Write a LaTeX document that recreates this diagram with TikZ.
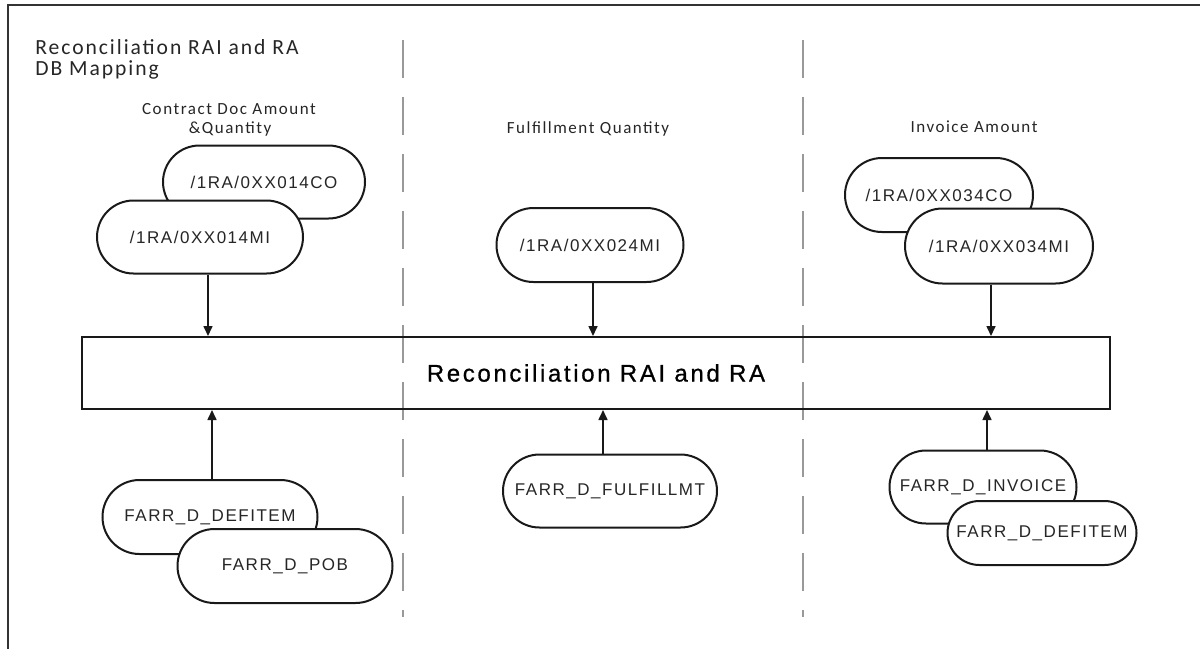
\documentclass[tikz,border=0pt]{standalone}
\usepackage{fontspec}
\setmainfont{Carlito}
\newfontfamily\arialsp[LetterSpace=9]{Liberation Sans}
\newfontfamily\arialmain[LetterSpace=11,FakeBold=0.8]{Liberation Sans}
\newfontfamily\calsp[LetterSpace=9]{Carlito}
\usetikzlibrary{arrows.meta,shapes.misc}
\begin{document}
\begin{tikzpicture}[x=0.5pt,y=-0.5pt,
  pill/.style={draw=black!90, line width=1pt, fill=white, rounded rectangle, inner sep=0pt,
    text=black!85, font=\arialsp\fontsize{8.5}{10}\selectfont},
  mainbox/.style={draw=black!90, line width=1pt, inner sep=0pt, minimum width=514pt, minimum height=36pt,
    font=\arialmain\fontsize{12}{14}\selectfont},
  arr/.style={-{Triangle[length=5pt,width=4.5pt]}, line width=0.8pt, black!90},
  lane/.style={draw=black!40, line width=1.1pt, dash pattern=on 19pt off 9.5pt},
  frame/.style={draw=black!80, line width=1.3pt},
  ttl/.style={anchor=base west, inner sep=0pt, text=black!85, font=\calsp\fontsize{10.8}{12}\selectfont},
  hdr/.style={anchor=base, inner sep=0pt, text=black!85, font=\calsp\fontsize{8.5}{10}\selectfont}]
\useasboundingbox (0,0) rectangle (1200,649);
% frame
\coordinate (fTR) at (1200,5);
\coordinate (fTL) at (8,5);
\coordinate (fBL) at (8,649);
\draw[frame] (fTR) -- (fTL) -- (fBL);
% titles
\node[ttl] (t1) at (35,54) {Reconciliation RAI and RA};
\node[ttl] (t2) at (35,75) {DB Mapping};
\node[hdr] (h1a) at (229,114) {Contract Doc Amount};
\node[hdr] (h1b) at (230,133) {\&Quantity};
\node[hdr] (h2) at (588,133) {Fulfillment Quantity};
\node[hdr] (h3) at (974,132) {Invoice Amount};
% swimlane separators
\coordinate (l1t) at (403,40);
\coordinate (l1b) at (403,617);
\coordinate (l2t) at (803,40);
\coordinate (l2b) at (803,617);
\draw[lane] (l1t) -- (l1b);
\draw[lane] (l2t) -- (l2b);
% main box
\node[mainbox] (main) at (596,373) {Reconciliation RAI and RA};
% top pills
\node[pill, minimum width=101pt, minimum height=36.5pt] (co1) at (264,182) {/1RA/0XX014CO};
\node[pill, minimum width=103pt, minimum height=36.5pt] (mi1) at (200,237) {/1RA/0XX014MI};
\node[pill, minimum width=93.5pt, minimum height=37pt] (mi2) at (590,245) {/1RA/0XX024MI};
\node[pill, minimum width=94pt, minimum height=37pt] (co3) at (939,195) {/1RA/0XX034CO};
\node[pill, minimum width=94pt, minimum height=37.5pt] (mi3) at (999,246) {/1RA/0XX034MI};
% bottom pills
\node[pill, minimum width=107.5pt, minimum height=37pt] (def1) at (210,517) {FARR\_D\_DEFITEM};
\node[pill, minimum width=107.5pt, minimum height=37pt] (pob) at (285,566) {FARR\_D\_POB};
\node[pill, minimum width=107pt, minimum height=36.5pt] (ful) at (610,491) {FARR\_D\_FULFILLMT};
\node[pill, minimum width=93.5pt, minimum height=36.5pt] (inv) at (983,487) {FARR\_D\_INVOICE};
\node[pill, minimum width=94.5pt, minimum height=32pt] (def3) at (1042,533) {FARR\_D\_DEFITEM};
% arrows
\draw[arr] ([xshift=4pt]mi1.south) -- ([xshift=4pt]mi1.south |- main.north);
\draw[arr] ([xshift=1.5pt]mi2.south) -- ([xshift=1.5pt]mi2.south |- main.north);
\draw[arr] ([xshift=-4pt]mi3.south) -- ([xshift=-4pt]mi3.south |- main.north);
\draw[arr] ([xshift=1pt]def1.north) -- ([xshift=1pt]def1.north |- main.south);
\draw[arr] ([xshift=-3.5pt]ful.north) -- ([xshift=-3.5pt]ful.north |- main.south);
\draw[arr] ([xshift=2pt]inv.north) -- ([xshift=2pt]inv.north |- main.south);
\end{tikzpicture}
\end{document}
